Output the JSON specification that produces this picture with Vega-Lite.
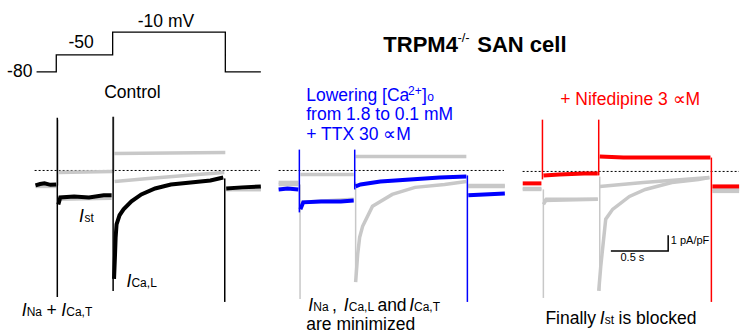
{
  "$schema": "https://vega.github.io/schema/vega-lite/v6.json",
  "width": 748,
  "height": 334,
  "autosize": {"type": "fit", "contains": "padding"},
  "padding": 0,
  "background": "white",
  "config": {"view": {"stroke": null}, "font": "Liberation Sans"},
  "datasets": {
    "proto": [
      {"i": 1, "t": 0.319, "v": 6.19}, {"i": 2, "t": 0.491, "v": 6.19}, {"i": 3, "t": 0.491, "v": 7.25}, {"i": 4, "t": 0.983, "v": 7.25},
      {"i": 5, "t": 0.983, "v": 8.69}, {"i": 6, "t": 1.966, "v": 8.69}, {"i": 7, "t": 1.966, "v": 6.19}, {"i": 8, "t": 2.276, "v": 6.19}
    ],
    "zero": [
      {"t": 0.302, "t2": 2.267, "v": 0},
      {"t": 2.431, "t2": 4.397, "v": 0},
      {"t": 4.56, "t2": 6.448, "v": -0.06}
    ],
    "fg": [
      {"s": "C", "g": "a", "t": 0.31, "v": -0.94}, {"s": "C", "g": "a", "t": 0.35, "v": -0.85}, {"s": "C", "g": "a", "t": 0.388, "v": -0.81}, {"s": "C", "g": "a", "t": 0.44, "v": -0.9}, {"s": "C", "g": "a", "t": 0.491, "v": -0.88},
      {"s": "C", "g": "b", "t": 0.509, "v": -2.13}, {"s": "C", "g": "b", "t": 0.526, "v": -1.69}, {"s": "C", "g": "b", "t": 0.647, "v": -1.63}, {"s": "C", "g": "b", "t": 0.776, "v": -1.69}, {"s": "C", "g": "b", "t": 0.905, "v": -1.56}, {"s": "C", "g": "b", "t": 0.974, "v": -1.56},
      {"s": "C", "g": "c", "t": 0.995, "v": -6.8}, {"s": "C", "g": "c", "t": 1.003, "v": -5.4}, {"s": "C", "g": "c", "t": 1.009, "v": -4.19}, {"s": "C", "g": "c", "t": 1.017, "v": -3.38}, {"s": "C", "g": "c", "t": 1.043, "v": -2.81}, {"s": "C", "g": "c", "t": 1.078, "v": -2.44}, {"s": "C", "g": "c", "t": 1.147, "v": -1.94}, {"s": "C", "g": "c", "t": 1.233, "v": -1.5}, {"s": "C", "g": "c", "t": 1.353, "v": -1.13}, {"s": "C", "g": "c", "t": 1.491, "v": -0.88}, {"s": "C", "g": "c", "t": 1.664, "v": -0.75}, {"s": "C", "g": "c", "t": 1.836, "v": -0.63}, {"s": "C", "g": "c", "t": 1.948, "v": -0.44},
      {"s": "C", "g": "d", "t": 1.974, "v": -1.13}, {"s": "C", "g": "d", "t": 2.112, "v": -1.06}, {"s": "C", "g": "d", "t": 2.276, "v": -1.0},
      {"s": "L", "g": "a", "t": 2.431, "v": -1.19}, {"s": "L", "g": "a", "t": 2.509, "v": -1.13}, {"s": "L", "g": "a", "t": 2.603, "v": -1.19},
      {"s": "L", "g": "b", "t": 2.621, "v": -2.44}, {"s": "L", "g": "b", "t": 2.646, "v": -2.0}, {"s": "L", "g": "b", "t": 2.802, "v": -1.94}, {"s": "L", "g": "b", "t": 2.974, "v": -1.94}, {"s": "L", "g": "b", "t": 3.086, "v": -1.88},
      {"s": "L", "g": "c", "t": 3.103, "v": -1.0}, {"s": "L", "g": "c", "t": 3.146, "v": -0.88}, {"s": "L", "g": "c", "t": 3.319, "v": -0.69}, {"s": "L", "g": "c", "t": 3.578, "v": -0.56}, {"s": "L", "g": "c", "t": 3.836, "v": -0.44}, {"s": "L", "g": "c", "t": 4.069, "v": -0.38},
      {"s": "L", "g": "d", "t": 4.086, "v": -1.56}, {"s": "L", "g": "d", "t": 4.224, "v": -1.5}, {"s": "L", "g": "d", "t": 4.405, "v": -1.44},
      {"s": "N", "g": "a", "t": 4.561, "v": -0.81}, {"s": "N", "g": "a", "t": 4.724, "v": -0.81},
      {"s": "N", "g": "b", "t": 4.742, "v": -0.31}, {"s": "N", "g": "b", "t": 4.88, "v": -0.25}, {"s": "N", "g": "b", "t": 5.095, "v": -0.19}, {"s": "N", "g": "b", "t": 5.216, "v": -0.19},
      {"s": "N", "g": "c", "t": 5.233, "v": 0.88}, {"s": "N", "g": "c", "t": 5.44, "v": 0.81}, {"s": "N", "g": "c", "t": 5.785, "v": 0.81}, {"s": "N", "g": "c", "t": 6.199, "v": 0.81},
      {"s": "N", "g": "d", "t": 6.216, "v": -1.0}, {"s": "N", "g": "d", "t": 6.449, "v": -1.0}
    ],
    "bg": [
      {"p": 1, "s": "N", "g": "a", "t": 0.31, "v": -0.94}, {"p": 1, "s": "N", "g": "a", "t": 0.491, "v": -0.94},
      {"p": 1, "s": "N", "g": "b", "t": 0.509, "v": -0.13}, {"p": 1, "s": "N", "g": "b", "t": 0.983, "v": -0.06},
      {"p": 1, "s": "N", "g": "c", "t": 0.991, "v": 1.06}, {"p": 1, "s": "N", "g": "c", "t": 1.966, "v": 1.13},
      {"p": 1, "s": "N", "g": "d", "t": 1.974, "v": -1.19}, {"p": 1, "s": "N", "g": "d", "t": 2.276, "v": -1.19},
      {"p": 1, "s": "L", "g": "a", "t": 0.31, "v": -1.0}, {"p": 1, "s": "L", "g": "a", "t": 0.491, "v": -1.0},
      {"p": 1, "s": "L", "g": "b", "t": 0.509, "v": -1.81}, {"p": 1, "s": "L", "g": "b", "t": 0.974, "v": -1.75},
      {"p": 1, "s": "L", "g": "c", "t": 1.0, "v": -0.69}, {"p": 1, "s": "L", "g": "c", "t": 1.293, "v": -0.5}, {"p": 1, "s": "L", "g": "c", "t": 1.724, "v": -0.25}, {"p": 1, "s": "L", "g": "c", "t": 1.957, "v": -0.13},
      {"p": 1, "s": "L", "g": "d", "t": 1.974, "v": -1.19}, {"p": 1, "s": "L", "g": "d", "t": 2.276, "v": -1.19},
      {"p": 2, "s": "C", "g": "a", "t": 2.431, "v": -0.75}, {"p": 2, "s": "C", "g": "a", "t": 2.603, "v": -0.75},
      {"p": 2, "s": "C", "g": "b", "t": 2.629, "v": -2.0}, {"p": 2, "s": "C", "g": "b", "t": 3.086, "v": -1.81},
      {"p": 2, "s": "C", "g": "c", "t": 3.103, "v": -7.0}, {"p": 2, "s": "C", "g": "c", "t": 3.121, "v": -5.25}, {"p": 2, "s": "C", "g": "c", "t": 3.138, "v": -4.19}, {"p": 2, "s": "C", "g": "c", "t": 3.164, "v": -3.5}, {"p": 2, "s": "C", "g": "c", "t": 3.25, "v": -2.25}, {"p": 2, "s": "C", "g": "c", "t": 3.422, "v": -1.5}, {"p": 2, "s": "C", "g": "c", "t": 3.621, "v": -1.06}, {"p": 2, "s": "C", "g": "c", "t": 3.879, "v": -0.88}, {"p": 2, "s": "C", "g": "c", "t": 4.069, "v": -0.69},
      {"p": 2, "s": "C", "g": "d", "t": 4.086, "v": -0.94}, {"p": 2, "s": "C", "g": "d", "t": 4.405, "v": -0.94},
      {"p": 2, "s": "N", "g": "a", "t": 2.431, "v": -0.88}, {"p": 2, "s": "N", "g": "a", "t": 2.603, "v": -0.88},
      {"p": 2, "s": "N", "g": "b", "t": 2.621, "v": -0.25}, {"p": 2, "s": "N", "g": "b", "t": 3.086, "v": -0.25},
      {"p": 2, "s": "N", "g": "c", "t": 3.103, "v": 0.88}, {"p": 2, "s": "N", "g": "c", "t": 4.069, "v": 0.88},
      {"p": 2, "s": "N", "g": "d", "t": 4.086, "v": -1.0}, {"p": 2, "s": "N", "g": "d", "t": 4.405, "v": -1.0},
      {"p": 3, "s": "C", "g": "a", "t": 4.561, "v": -1.19}, {"p": 3, "s": "C", "g": "a", "t": 4.724, "v": -1.19},
      {"p": 3, "s": "C", "g": "b", "t": 4.742, "v": -2.13}, {"p": 3, "s": "C", "g": "b", "t": 4.767, "v": -1.81}, {"p": 3, "s": "C", "g": "b", "t": 5.216, "v": -1.81},
      {"p": 3, "s": "C", "g": "c", "t": 5.224, "v": -7.56}, {"p": 3, "s": "C", "g": "c", "t": 5.242, "v": -6.0}, {"p": 3, "s": "C", "g": "c", "t": 5.285, "v": -3.06}, {"p": 3, "s": "C", "g": "c", "t": 5.345, "v": -2.44}, {"p": 3, "s": "C", "g": "c", "t": 5.492, "v": -1.63}, {"p": 3, "s": "C", "g": "c", "t": 5.63, "v": -1.19}, {"p": 3, "s": "C", "g": "c", "t": 5.862, "v": -0.75}, {"p": 3, "s": "C", "g": "c", "t": 6.095, "v": -0.56}, {"p": 3, "s": "C", "g": "c", "t": 6.19, "v": -0.44},
      {"p": 3, "s": "C", "g": "d", "t": 6.216, "v": -1.31}, {"p": 3, "s": "C", "g": "d", "t": 6.449, "v": -1.31},
      {"p": 3, "s": "L", "g": "a", "t": 4.561, "v": -1.13}, {"p": 3, "s": "L", "g": "a", "t": 4.724, "v": -1.13},
      {"p": 3, "s": "L", "g": "b", "t": 4.742, "v": -1.88}, {"p": 3, "s": "L", "g": "b", "t": 5.216, "v": -1.81},
      {"p": 3, "s": "L", "g": "c", "t": 5.233, "v": -1.0}, {"p": 3, "s": "L", "g": "c", "t": 5.612, "v": -0.75}, {"p": 3, "s": "L", "g": "c", "t": 6.19, "v": -0.44},
      {"p": 3, "s": "L", "g": "d", "t": 6.216, "v": -1.19}, {"p": 3, "s": "L", "g": "d", "t": 6.449, "v": -1.19}
    ],
    "fgspike": [
      {"s": "C", "t": 0.5, "v": 3.31, "v2": -7.94}, {"s": "C", "t": 0.987, "v": 3.38, "v2": -7.56}, {"s": "C", "t": 1.961, "v": -0.5, "v2": -8.25},
      {"s": "L", "t": 2.612, "v": 1.31, "v2": -2.63}, {"s": "L", "t": 3.095, "v": 1.31, "v2": -1.19}, {"s": "L", "t": 4.078, "v": -0.31, "v2": -8.25},
      {"s": "N", "t": 4.733, "v": 3.19, "v2": -0.56}, {"s": "N", "t": 5.224, "v": 3.19, "v2": -0.31}, {"s": "N", "t": 6.207, "v": 0.81, "v2": -8.25}
    ],
    "bgspike": [
      {"t": 0.506, "v": 3.19, "v2": -0.94}, {"t": 0.993, "v": 3.38, "v2": -0.13},
      {"t": 2.618, "v": -0.88, "v2": -8.06}, {"t": 3.103, "v": -0.75, "v2": -7.0},
      {"t": 4.741, "v": -1.19, "v2": -8.0}, {"t": 5.233, "v": -0.38, "v2": -7.56}
    ],
    "bar": [
      {"i": 1, "t": 5.33, "v": -5.06}, {"i": 2, "t": 5.83, "v": -5.06}, {"i": 3, "t": 5.83, "v": -4.06}
    ],
    "txt": [
      {"s": "C", "t": 0.405, "v": -9.125, "text": "+"},
      {"s": "C", "t": 2.897, "v": -8.81, "text": ","},
      {"s": "C", "t": 3.293, "v": -8.81, "text": "and"},
      {"s": "C", "t": 2.672, "v": -10.0, "text": "are minimized"},
      {"s": "C", "t": 4.759, "v": -9.625, "text": "Finally"},
      {"s": "C", "t": 5.397, "v": -9.625, "text": "is blocked"},
      {"s": "L", "t": 2.672, "v": 4.375, "text": "Lowering [Ca"},
      {"s": "L", "t": 3.681, "v": 4.375, "text": "]"},
      {"s": "L", "t": 2.672, "v": 3.19, "text": "from 1.8 to 0.1 mM"},
      {"s": "L", "t": 2.672, "v": 1.94, "text": "+ TTX 30 ∝M"},
      {"s": "N", "t": 4.888, "v": 4.125, "text": "+ Nifedipine 3 ∝M"}
    ],
    "lbl": [
      {"t": 0.172, "v": 6.19, "text": "-80"},
      {"t": 0.707, "v": 8.0, "text": "-50"},
      {"t": 1.448, "v": 9.31, "text": "-10 mV"},
      {"t": 1.155, "v": 4.875, "text": "Control"}
    ],
    "ital": [
      {"t": 0.69, "v": -3.25, "text": "I"}, {"t": 1.103, "v": -7.31, "text": "I"},
      {"t": 0.19, "v": -9.125, "text": "I"}, {"t": 0.534, "v": -9.125, "text": "I"},
      {"t": 2.69, "v": -8.81, "text": "I"}, {"t": 3.0, "v": -8.81, "text": "I"}, {"t": 3.57, "v": -8.81, "text": "I"},
      {"t": 5.233, "v": -9.625, "text": "I"}
    ],
    "sub": [
      {"s": "C", "t": 0.737, "v": -3.25, "text": "st"},
      {"s": "C", "t": 1.147, "v": -7.31, "text": "Ca,L"},
      {"s": "C", "t": 0.233, "v": -9.125, "text": "Na"},
      {"s": "C", "t": 0.578, "v": -9.125, "text": "Ca,T"},
      {"s": "C", "t": 2.733, "v": -8.81, "text": "Na"},
      {"s": "C", "t": 3.043, "v": -8.81, "text": "Ca,L"},
      {"s": "C", "t": 3.612, "v": -8.81, "text": "Ca,T"},
      {"s": "C", "t": 5.276, "v": -9.625, "text": "st"},
      {"s": "L", "t": 3.56, "v": 4.75, "text": "2+"},
      {"s": "L", "t": 3.727, "v": 4.33, "text": "o"}
    ],
    "title": [
      {"t": 3.345, "v": 7.875, "text": "TRPM4"},
      {"t": 4.164, "v": 7.875, "text": "SAN cell"}
    ],
    "sup": [
      {"t": 3.991, "v": 8.31, "text": "-/-"}
    ],
    "small": [
      {"t": 5.853, "v": -4.44, "text": "1 pA/pF"},
      {"t": 5.414, "v": -5.5, "text": "0.5 s"}
    ]
  },
  "encoding": {
    "x": {"field": "t", "type": "quantitative", "scale": {"domain": [0, 6.448], "nice": false, "zero": false}, "axis": null},
    "y": {"field": "v", "type": "quantitative", "scale": {"domain": [-10.2, 10.7], "nice": false, "zero": false}, "axis": null}
  },
  "layer": [
    {"data": {"name": "proto"}, "mark": {"type": "line", "color": "black", "strokeWidth": 1.3}, "encoding": {"order": {"field": "i", "type": "quantitative"}}},
    {"data": {"name": "zero"}, "mark": {"type": "rule", "color": "black", "strokeWidth": 1, "strokeDash": [2, 2]}, "encoding": {"x2": {"field": "t2"}}},
    {"data": {"name": "bg"}, "mark": {"type": "line", "color": "#c8c8c8", "strokeWidth": 3.5}, "encoding": {"detail": [{"field": "p"}, {"field": "s"}, {"field": "g"}]}},
    {"data": {"name": "bgspike"}, "mark": {"type": "rule", "color": "#c8c8c8", "strokeWidth": 1.5}, "encoding": {"y2": {"field": "v2"}}},
    {"data": {"name": "fg"}, "mark": {"type": "line", "strokeWidth": 4}, "encoding": {"detail": [{"field": "s"}, {"field": "g"}], "color": {"field": "s", "type": "nominal", "scale": {"domain": ["C", "L", "N"], "range": ["#000000", "#0000ff", "#ff0000"]}, "legend": null}}},
    {"data": {"name": "fgspike"}, "mark": {"type": "rule", "strokeWidth": 1.5}, "encoding": {"y2": {"field": "v2"}, "color": {"field": "s", "type": "nominal", "legend": null}}},
    {"data": {"name": "bar"}, "mark": {"type": "line", "color": "black", "strokeWidth": 1.5}, "encoding": {"order": {"field": "i", "type": "quantitative"}}},
    {"data": {"name": "txt"}, "mark": {"type": "text", "fontSize": 17.5, "align": "left", "baseline": "alphabetic"}, "encoding": {"text": {"field": "text"}, "color": {"field": "s", "type": "nominal", "legend": null}}},
    {"data": {"name": "lbl"}, "mark": {"type": "text", "fontSize": 17.5, "align": "center", "baseline": "middle", "color": "black"}, "encoding": {"text": {"field": "text"}}},
    {"data": {"name": "ital"}, "mark": {"type": "text", "fontSize": 17.5, "fontStyle": "italic", "align": "left", "baseline": "alphabetic", "color": "black"}, "encoding": {"text": {"field": "text"}}},
    {"data": {"name": "sub"}, "mark": {"type": "text", "fontSize": 12, "align": "left", "baseline": "alphabetic"}, "encoding": {"text": {"field": "text"}, "color": {"field": "s", "type": "nominal", "legend": null}}},
    {"data": {"name": "title"}, "mark": {"type": "text", "fontSize": 22, "fontWeight": "bold", "align": "left", "baseline": "middle", "color": "black"}, "encoding": {"text": {"field": "text"}}},
    {"data": {"name": "sup"}, "mark": {"type": "text", "fontSize": 13, "align": "left", "baseline": "middle", "color": "black"}, "encoding": {"text": {"field": "text"}}},
    {"data": {"name": "small"}, "mark": {"type": "text", "fontSize": 11, "align": "left", "baseline": "middle", "color": "black"}, "encoding": {"text": {"field": "text"}}}
  ]
}
